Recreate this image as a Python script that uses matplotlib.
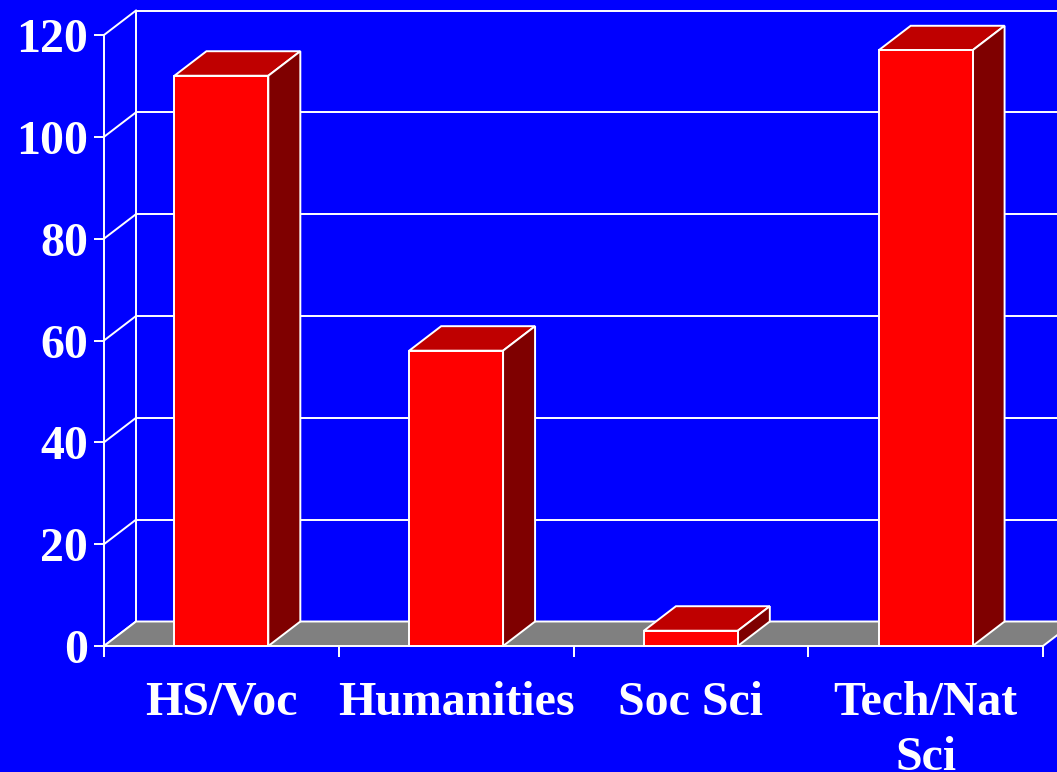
import matplotlib
matplotlib.use("Agg")
import matplotlib.pyplot as plt
from matplotlib.patches import Polygon

categories = ["HS/Voc", "Humanities", "Soc Sci", "Tech/Nat\nSci"]
values = [112, 58, 3, 117]
y_ticks = [0, 20, 40, 60, 80, 100, 120]

BG = "#0000FF"
FRONT = "#FF0000"
TOP = "#BF0000"
SIDE = "#7F0000"
FLOOR = "#808080"
EDGE = "white"
LW = 1.4

W, H = 1057, 772
fig = plt.figure(figsize=(W / 100, H / 100), dpi=100, facecolor=BG)
left_px, right_px, top_px, bot_px = 104, 1043, 35, 646
ax = fig.add_axes([left_px / W, (H - bot_px) / H, (right_px - left_px) / W, (bot_px - top_px) / H])
ax.set_facecolor("none")
ax.set_xlim(-0.5, len(categories) - 0.5)
ax.set_ylim(0, 120)

# depth offsets in data units
px_x = (right_px - left_px) / len(categories)
px_y = (bot_px - top_px) / 120
dx = 32 / px_x
dy = 24.5 / px_y
x0, x1 = -0.5, len(categories) - 0.5
xfar = x1 + 1.0

# back wall gridlines and connectors
for v in y_ticks:
    ax.plot([x0 + dx, xfar], [v + dy, v + dy], color=EDGE, lw=LW, zorder=1, clip_on=False)
    ax.plot([x0, x0 + dx], [v, v + dy], color=EDGE, lw=LW, zorder=1, clip_on=False)
ax.plot([x0 + dx, x0 + dx], [dy, 120 + dy], color=EDGE, lw=LW, zorder=1, clip_on=False)

# floor
floor = Polygon([(x0, 0), (x1, 0), (x1 + dx, dy), (x0 + dx, dy)], closed=True,
                facecolor=FLOOR, edgecolor=EDGE, lw=LW, zorder=2, clip_on=False)
ax.add_patch(floor)
ax.plot([x1 + dx, xfar], [dy, dy], color=EDGE, lw=LW, zorder=2, clip_on=False)

# front axis line
ax.plot([x0, x0], [0, 120], color=EDGE, lw=LW, zorder=5, clip_on=False)

# bars
bw = 0.4
for i, v in enumerate(values):
    z = 3 + i * 0.01
    bars = ax.bar([i], [v], width=bw, color=FRONT, edgecolor=EDGE, linewidth=LW, zorder=z + 0.003)
    for b in bars:
        b.set_clip_on(False)
    xl, xr = i - bw / 2, i + bw / 2
    top = Polygon([(xl, v), (xr, v), (xr + dx, v + dy), (xl + dx, v + dy)], closed=True,
                  facecolor=TOP, edgecolor=EDGE, lw=LW, zorder=z, clip_on=False)
    side = Polygon([(xr, 0), (xr + dx, dy), (xr + dx, v + dy), (xr, v)], closed=True,
                   facecolor=SIDE, edgecolor=EDGE, lw=LW, zorder=z + 0.001, clip_on=False)
    ax.add_patch(top)
    ax.add_patch(side)

for s in ax.spines.values():
    s.set_visible(False)

font = dict(family="Liberation Serif", weight="bold", size=34.5, color="white")
ax.set_yticks(y_ticks)
ax.set_yticklabels([str(t) for t in y_ticks], fontdict=font)
ax.tick_params(axis="y", which="major", direction="out", length=7.5, width=LW, color=EDGE, pad=4)

ax.set_xticks(range(len(categories)))
ax.set_xticklabels(categories, fontdict=font, linespacing=1.32)
ax.set_xticks([k - 0.5 for k in range(len(categories) + 1)], minor=True)
ax.tick_params(axis="x", which="major", length=0, pad=25)
ax.tick_params(axis="x", which="minor", direction="out", length=8, width=LW, color=EDGE)

fig.savefig("out.png", dpi=100, facecolor=BG)
